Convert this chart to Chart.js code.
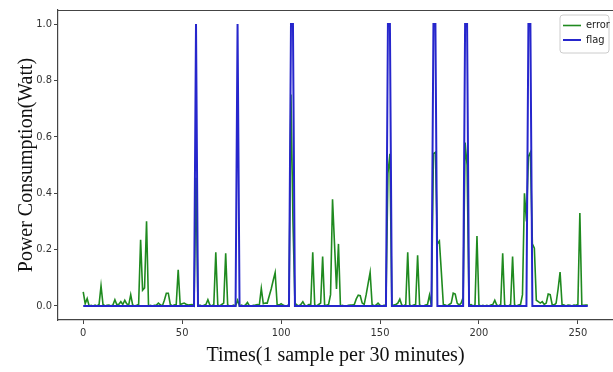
<!DOCTYPE html>
<html>
<head>
<meta charset="utf-8">
<script src="https://cdn.jsdelivr.net/npm/chart.js@4.4.1/dist/chart.umd.min.js"></script>
<style>
  html, body { margin: 0; padding: 0; background: #ffffff; }
  #wrap { width: 613px; height: 372px; position: relative; }
</style>
</head>
<body>
<div id="wrap"><canvas id="c" width="613" height="372"></canvas></div>
<script>
// ---- data ----
const seriesNames = ['error', 'flag'];
const errorValues = [
  0.05,0.008,0.026,0,0.002,0,0.003,0,0.005,0.071,0.005,0,0.002,0.003,0,0.003,
  0.022,0.004,0.006,0.015,0.005,0.02,0.007,0.004,0.04,0.003,0,0.002,0.005,0.235,0.056,0.064,
  0.30,0,0.002,0,0.002,0.003,0.01,0.004,0,0.02,0.045,0.045,0.005,0,0.003,0.005,
  0.128,0.005,0.008,0.01,0.006,0.003,0.004,0.005,0,0.455,0,0.003,0,0.002,0.005,0.022,
  0.003,0,0.005,0.19,0.003,0,0.005,0.01,0.187,0.003,0,0,0.003,0,0.02,0,
  0.003,0,0.003,0.012,0,0,0.002,0.003,0.005,0.003,0.062,0.008,0.01,0.01,0.035,0.06,
  0.09,0.118,0.005,0.003,0.008,0.003,0,0,0.005,0.75,0.3,0.01,0.003,0,0.005,0.015,
  0.002,0,0.005,0.005,0.19,0.003,0,0.005,0.01,0.175,0.003,0.002,0.005,0.04,0.378,0.22,
  0.06,0.22,0,0.002,0,0,0.002,0.003,0.003,0.005,0.025,0.038,0.036,0.01,0.005,0.04,
  0.08,0.119,0.005,0,0.003,0.01,0.002,0,0.002,0.003,0.47,0.54,0,0.003,0.005,0.01,
  0.024,0.003,0,0.005,0.19,0.003,0,0.003,0.005,0.18,0.003,0,0,0.003,0.005,0.038,
  0,0.54,0.545,0.22,0.23,0.12,0.005,0.003,0,0.005,0.01,0.045,0.042,0.01,0.003,0.01,
  0.03,0.58,0.5,0.003,0.005,0,0.003,0.248,0.003,0,0.002,0,0.002,0,0.003,0.005,
  0.02,0.003,0,0.005,0.187,0.003,0,0,0.005,0.175,0.003,0,0.003,0.005,0.04,0.40,
  0.3,0.53,0.545,0.22,0.205,0.02,0.015,0.01,0.015,0.005,0.01,0.042,0.04,0.005,0.003,0.01,
  0.06,0.12,0.005,0.003,0,0.003,0.002,0,0.003,0.002,0.005,0.33,0.003,0.002,0.003,0.003
];
const flagValues = [
  0,0,0,0,0,0,0,0,0,0,0,0,0,0,0,0,
  0,0,0,0,0,0,0,0,0,0,0,0,0,0,0,0,
  0,0,0,0,0,0,0,0,0,0,0,0,0,0,0,0,
  0,0,0,0,0,0,0,0,0,1,0,0,0,0,0,0,
  0,0,0,0,0,0,0,0,0,0,0,0,0,0,1,0,
  0,0,0,0,0,0,0,0,0,0,0,0,0,0,0,0,
  0,0,0,0,0,0,0,0,0,1,1,0,0,0,0,0,
  0,0,0,0,0,0,0,0,0,0,0,0,0,0,0,0,
  0,0,0,0,0,0,0,0,0,0,0,0,0,0,0,0,
  0,0,0,0,0,0,0,0,0,0,1,1,0,0,0,0,
  0,0,0,0,0,0,0,0,0,0,0,0,0,0,0,0,
  0,1,1,0,0,0,0,0,0,0,0,0,0,0,0,0,
  0,1,1,0,0,0,0,0,0,0,0,0,0,0,0,0,
  0,0,0,0,0,0,0,0,0,0,0,0,0,0,0,0,
  0,1,1,0,0,0,0,0,0,0,0,0,0,0,0,0,
  0,0,0,0,0,0,0,0,0,0,0,0,0,0,0,0
];
// sample index of each reading (x axis category values)
const times = errorValues.map((_, i) => i);
const xTicks = [0, 50, 100, 150, 200, 250];
const yTicks = [0.0, 0.2, 0.4, 0.6, 0.8, 1.0];
const xTitle = 'Times(1 sample per 30 minutes)';
const yTitle = 'Power Consumption(Watt)';

// ---- styling ----
const GREEN = '#1f8a1f';
const BLUE = '#2626cc';
const tickFont = { family: '"Liberation Sans Narrow", "DejaVu Sans Condensed", "Liberation Sans", sans-serif', size: 11 };
const titleFont = { family: '"Liberation Serif", "DejaVu Serif", serif', size: 20 };

const frameAndLegend = {
  id: 'frameAndLegend',
  afterDraw(chart) {
    const ctx = chart.ctx, a = chart.chartArea;
    ctx.save();
    ctx.strokeStyle = '#444';
    ctx.lineWidth = 1.2;
    ctx.beginPath();
    ctx.moveTo(a.left, a.top + 0.5);
    ctx.lineTo(a.right, a.top + 0.5);
    ctx.stroke();
    // legend box
    const bx = 560, by = 15, bw = 49, bh = 38, r = 3;
    ctx.fillStyle = 'rgba(255,255,255,0.9)';
    ctx.strokeStyle = '#cccccc';
    ctx.lineWidth = 1;
    ctx.beginPath();
    ctx.moveTo(bx + r, by);
    ctx.lineTo(bx + bw - r, by);
    ctx.arcTo(bx + bw, by, bx + bw, by + r, r);
    ctx.lineTo(bx + bw, by + bh - r);
    ctx.arcTo(bx + bw, by + bh, bx + bw - r, by + bh, r);
    ctx.lineTo(bx + r, by + bh);
    ctx.arcTo(bx, by + bh, bx, by + bh - r, r);
    ctx.lineTo(bx, by + r);
    ctx.arcTo(bx, by, bx + r, by, r);
    ctx.closePath();
    ctx.fill();
    ctx.stroke();
    const ds = chart.data.datasets;
    const rows = [by + 10.5, by + 25];
    ds.forEach((d, k) => {
      ctx.strokeStyle = d.borderColor;
      ctx.lineWidth = d.borderWidth;
      ctx.beginPath();
      ctx.moveTo(bx + 3, rows[k]);
      ctx.lineTo(bx + 21, rows[k]);
      ctx.stroke();
      ctx.fillStyle = '#222';
      ctx.font = '11px ' + tickFont.family;
      ctx.textBaseline = 'middle';
      ctx.textAlign = 'left';
      ctx.fillText(d.label, bx + 26, rows[k]);
    });
    ctx.restore();
  }
};

new Chart(document.getElementById('c'), {
  type: 'line',
  data: {
    labels: times,
    datasets: [
      { label: seriesNames[0], data: errorValues, borderColor: GREEN, backgroundColor: GREEN,
        borderWidth: 1.6, pointRadius: 0, tension: 0, fill: false, order: 2 },
      { label: seriesNames[1], data: flagValues, borderColor: BLUE, backgroundColor: BLUE,
        borderWidth: 2, pointRadius: 0, tension: 0, fill: false, order: 1 }
    ]
  },
  options: {
    responsive: false,
    animation: false,
    events: [],
    layout: { padding: { top: 10, left: 0, right: 0, bottom: 0 } },
    plugins: { legend: { display: false }, tooltip: { enabled: false } },
    scales: {
      x: {
        type: 'linear',
        min: -12.75, max: 267.75,
        afterBuildTicks: s => { s.ticks = xTicks.map(v => ({ value: v })); },
        afterFit: s => { s.height = 52; },
        ticks: { font: tickFont, color: '#333', padding: 3, maxRotation: 0, autoSkip: false,
                 callback: v => String(v) },
        grid: { drawOnChartArea: false, drawTicks: true, tickLength: 4, color: '#444', tickWidth: 1 },
        border: { display: true, color: '#444', width: 1.2 },
        title: { display: true, text: xTitle, font: titleFont, color: '#111', padding: { top: 0, bottom: 4 } }
      },
      y: {
        type: 'linear',
        min: -0.05, max: 1.05,
        afterBuildTicks: s => { s.ticks = yTicks.map(v => ({ value: v })); },
        afterFit: s => { s.width = 58; },
        ticks: { font: tickFont, color: '#333', padding: 2, autoSkip: false,
                 callback: v => Number(v).toFixed(1) },
        grid: { drawOnChartArea: false, drawTicks: true, tickLength: 4, color: '#444', tickWidth: 1 },
        border: { display: true, color: '#444', width: 1.2 },
        title: { display: true, text: yTitle, font: titleFont, color: '#111', padding: { top: 15, bottom: 0 } }
      }
    }
  },
  plugins: [frameAndLegend]
});
</script>
</body>
</html>
